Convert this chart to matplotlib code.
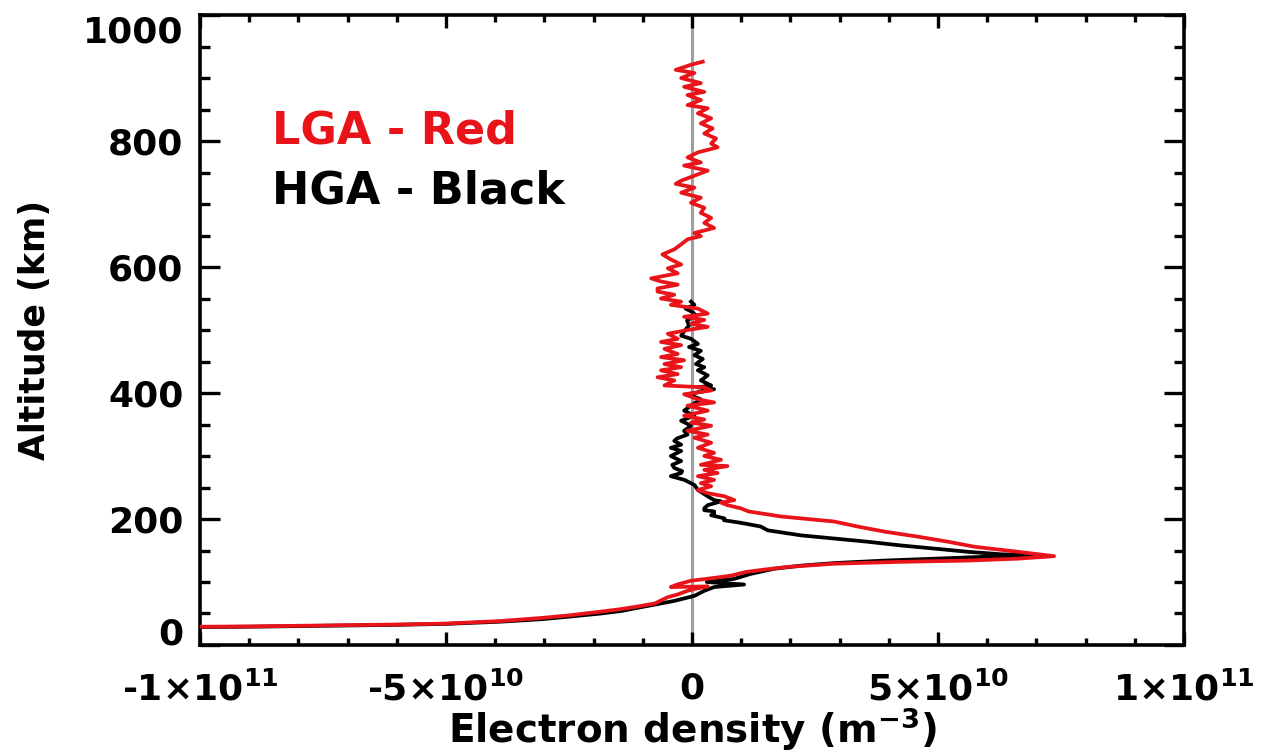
import matplotlib
matplotlib.use("Agg")
import matplotlib.pyplot as plt
from matplotlib.ticker import MultipleLocator

plt.rcParams["font.family"] = ["DejaVu Sans"]
plt.rcParams["font.weight"] = "bold"
plt.rcParams["axes.labelweight"] = "bold"
plt.rcParams["mathtext.fontset"] = "dejavusans"
plt.rcParams["mathtext.default"] = "bf"

# LGA profile: altitude (km) and electron density (units of 1e10 m^-3)
lga_alt = [
    926, 921, 913, 908, 900, 892, 886, 878, 873, 865, 857, 852, 844, 836, 828,
    820, 812, 804, 796, 790, 782, 774, 766, 761, 753, 745, 737, 732, 726, 718,
    710, 702, 694, 686, 678, 670, 662, 654, 649, 644, 636, 628, 620, 612, 604,
    598, 590, 582, 577, 572, 566, 561, 556, 550, 545, 540, 534, 526, 521, 516,
    510, 505, 500, 494, 486, 481, 476, 470, 462, 457, 452, 446, 441, 436, 430,
    425, 420, 412, 409, 404, 398, 390, 385, 380, 372, 364, 358, 353, 348, 340,
    334, 329, 321, 313, 305, 300, 294, 286, 284, 278, 273, 268, 262, 257, 252,
    246, 241, 236, 230, 226, 222, 217, 212, 209, 204, 201, 196, 188, 180, 172,
    164, 156, 148, 141, 137, 134, 132, 129, 124, 120, 116, 110, 105, 102, 96,
    92, 93, 89, 86, 80, 76, 70, 66, 62, 57, 53, 47, 43, 38, 34,
    32.5, 31.5, 30.5, 29.5, 29, 28.5,
]
lga_ne = [
    0.22, -0.02, -0.33, 0.05, -0.22, 0.18, -0.16, 0.25, -0.09, 0.18, -0.09, 0.32, 0.12, 0.39, 0.18,
    0.42, 0.25, 0.49, 0.39, 0.52, 0.12, -0.09, 0.18, -0.16, 0.32, 0.05, -0.22, -0.33, 0.05, -0.22,
    0.18, -0.02, 0.25, 0.18, 0.39, 0.25, 0.45, 0.05, 0.18, -0.09, -0.22, -0.36, -0.60, -0.43, -0.22,
    -0.49, -0.29, -0.83, -0.63, -0.29, -0.70, -0.70, -0.36, -0.63, -0.22, -0.43, 0.12, 0.32, -0.16, 0.25,
    -0.02, 0.32, -0.09, -0.49, -0.29, -0.63, -0.22, -0.56, -0.29, -0.63, -0.16, -0.56, -0.22, -0.63, -0.29,
    -0.70, -0.36, -0.56, 0.25, 0.39, -0.16, 0.12, 0.45, -0.09, 0.32, -0.16, 0.25, -0.02, 0.39, -0.09,
    0.32, 0.05, 0.39, 0.12, 0.45, 0.25, 0.59, 0.18, 0.72, 0.25, 0.52, 0.12, 0.45, 0.18, 0.39,
    0.12, 0.32, 0.66, 0.86, 0.59, 0.72, 0.99, 1.15, 1.40, 1.81, 2.22, 2.89, 3.37, 3.91, 4.59,
    5.20, 5.74, 6.62, 7.36, 6.62, 5.60, 4.25, 2.89, 1.95, 1.50, 1.10, 0.79, 0.30, -0.02, -0.30,
    -0.43, 0.32, 0.05, -0.09, -0.30, -0.49, -0.65, -0.75, -1.04, -1.44, -1.85, -2.50, -3.05, -3.90, -5.00,
    -6.00, -7.00, -8.00, -9.00, -10.00, -10.50,
]

# HGA profile
hga_alt = [
    545, 540, 534, 528, 523, 515, 507, 499, 491, 486, 478, 473, 467, 460, 454,
    446, 441, 436, 428, 420, 412, 409, 406, 398, 390, 380, 372, 364, 356, 348,
    340, 334, 328, 324, 318, 313, 308, 300, 292, 286, 281, 276, 273, 268, 262,
    254, 246, 236, 230, 228, 222, 217, 214, 212, 209, 206, 201, 198, 194, 188,
    182, 174, 169, 164, 158, 153, 148, 144, 142, 140, 137, 134, 130, 126, 121,
    113, 105, 100, 96, 92, 86, 78, 70, 60, 54, 50, 45, 41, 37, 33.5,
    32, 31, 30, 29, 28.5, 28,
]
hga_ne = [
    -0.02, 0.05, -0.13, 0.02, 0.08, -0.10, -0.06, -0.15, -0.22, -0.02, 0.12, -0.06, 0.18, 0.05, 0.22,
    0.08, 0.25, 0.12, 0.32, 0.18, 0.39, 0.12, 0.45, -0.09, 0.18, -0.02, -0.16, 0.05, -0.22, -0.02,
    -0.16, -0.09, -0.30, -0.36, -0.22, -0.43, -0.22, -0.43, -0.22, -0.40, -0.36, -0.20, -0.22, -0.43, -0.15,
    0.05, 0.12, 0.32, 0.45, 0.59, 0.32, 0.25, 0.25, 0.45, 0.45, 0.39, 0.66, 0.65, 0.99, 1.40,
    1.54, 2.22, 2.89, 3.56, 4.25, 4.93, 5.60, 6.28, 6.96, 5.94, 4.93, 3.91, 2.89, 2.22, 1.67,
    1.20, 0.86, 0.30, 1.06, 0.45, 0.25, 0.05, -0.36, -1.04, -1.44, -1.85, -2.50, -3.05, -3.90, -5.00,
    -6.00, -7.00, -8.00, -9.00, -10.00, -10.50,
]

SCALE = 1e10
x_ticks = [-1e11, -5e10, 0, 5e10, 1e11]
x_tick_labels = [r"-1$\times$10$^{11}$", r"-5$\times$10$^{10}$", "0",
                 r"5$\times$10$^{10}$", r"1$\times$10$^{11}$"]
y_ticks = [0, 200, 400, 600, 800, 1000]

fig = plt.figure(figsize=(12.61, 7.55), dpi=100)
ax = fig.add_axes([0.1586, 0.1457, 0.7803, 0.8344])

ax.axvline(0, color="#a0a0a0", lw=2.2, zorder=1)
ax.plot([v * SCALE for v in hga_ne], hga_alt, color="black", lw=2.7, zorder=2)
ax.plot([v * SCALE for v in lga_ne], lga_alt, color="#e8141a", lw=2.7, zorder=3)

ax.set_xlim(-1e11, 1e11)
ax.set_ylim(0, 1000)
ax.set_xticks(x_ticks, labels=x_tick_labels)
ax.set_yticks(y_ticks, labels=[str(v) for v in y_ticks])
ax.xaxis.set_minor_locator(MultipleLocator(1e10))
ax.yaxis.set_minor_locator(MultipleLocator(50))

for side in ax.spines.values():
    side.set_linewidth(2.6)
ax.tick_params(which="both", direction="in", top=True, right=True,
               labelsize=26, width=2.4, color="black")
ax.tick_params(axis="x", which="major", length=9.5, pad=19)
ax.tick_params(axis="x", which="minor", length=4.8)
ax.tick_params(axis="y", which="major", length=14.5, pad=12)
ax.tick_params(axis="y", which="minor", length=7.2)

# keep the end labels inside the frame
yt = ax.yaxis.get_major_ticks()
yt[0].label1.set_verticalalignment("baseline")
yt[-1].label1.set_verticalalignment("top")

ax.set_xlabel(r"Electron density (m$^{-3}$)", fontsize=28, labelpad=-2)
ax.set_ylabel("Altitude (km)", fontsize=25, labelpad=22)

ax.text(0.073, 0.816, "LGA - Red", color="#e8141a", fontsize=32,
        transform=ax.transAxes, va="center")
ax.text(0.073, 0.72, "HGA - Black", color="black", fontsize=32,
        transform=ax.transAxes, va="center")

fig.savefig("out.png", dpi=100)
